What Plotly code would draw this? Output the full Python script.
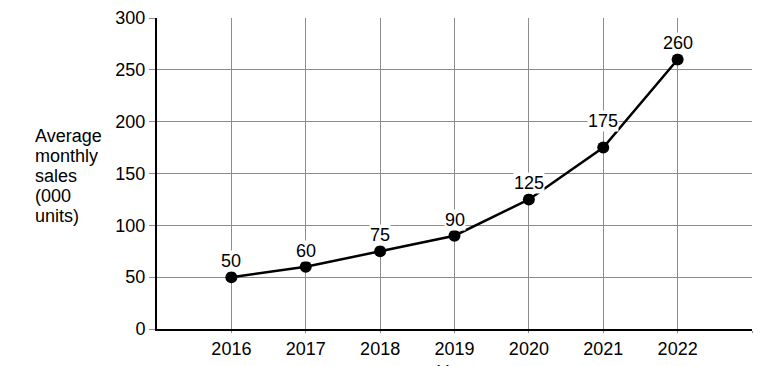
import plotly.graph_objects as go

years = [2016, 2017, 2018, 2019, 2020, 2021, 2022]
sales = [50, 60, 75, 90, 125, 175, 260]
labels = ["50", "60", "75", "90", "125", "175", "260"]
ytick_vals = [0, 50, 100, 150, 200, 250, 300]
y_title_lines = ["Average", "monthly", "sales", "(000", "units)"]
x_title = "Year"

FONT = "Liberation Sans, Arial, sans-serif"
FS = 18
GRID = "#8c8c8c"
PLOT_TOP, PLOT_H, PLOT_L, PLOT_W = 18, 311, 157, 595

fig = go.Figure()
fig.add_trace(go.Scatter(
    x=years, y=sales, mode="lines+markers",
    line=dict(color="black", width=2.5),
    marker=dict(color="black", size=12),
    showlegend=False, hoverinfo="skip",
))

for x, y, t in zip(years, sales, labels):
    fig.add_annotation(
        x=x, y=y, text=t, showarrow=False,
        yanchor="middle", yshift=27 if x == 2021 else 16,
        font=dict(family=FONT, size=FS, color="black"),
        bgcolor="white", borderpad=0,
    )

# y-axis title, one line per annotation (20 px line spacing)
for i, line in enumerate(y_title_lines):
    ypix = 136 + 20 * i
    fig.add_annotation(
        xref="paper", yref="paper",
        x=(33 - PLOT_L) / PLOT_W, y=(PLOT_TOP + PLOT_H - ypix) / PLOT_H,
        xanchor="left", yanchor="middle",
        text=line, align="left", showarrow=False,
        font=dict(family=FONT, size=FS, color="black"),
    )

fig.add_annotation(
    xref="paper", yref="paper", x=0.5, y=-0.1, xanchor="center", yanchor="top",
    text=x_title, showarrow=False,
    font=dict(family=FONT, size=FS, color="black"),
)

fig.update_layout(
    width=761, height=366,
    margin=dict(l=PLOT_L, r=9, t=PLOT_TOP, b=37, autoexpand=False),
    paper_bgcolor="white", plot_bgcolor="white",
    font=dict(family=FONT, size=FS, color="black"),
    xaxis=dict(
        range=[2015, 2023], automargin=False,
        tickvals=years + [2023], ticktext=[str(y) for y in years] + [""],
        showgrid=True, gridcolor=GRID, gridwidth=1,
        showline=True, linecolor="black", linewidth=2,
        ticks="outside", ticklen=2, tickcolor=GRID,
        zeroline=False, fixedrange=True,
    ),
    yaxis=dict(
        range=[0, 300], tickvals=ytick_vals, automargin=False,
        showgrid=True, gridcolor=GRID, gridwidth=1,
        showline=True, linecolor="black", linewidth=2,
        ticks="outside", ticklen=6, tickcolor=GRID,
        zeroline=False, fixedrange=True,
    ),
)

fig.write_html("out.html")
